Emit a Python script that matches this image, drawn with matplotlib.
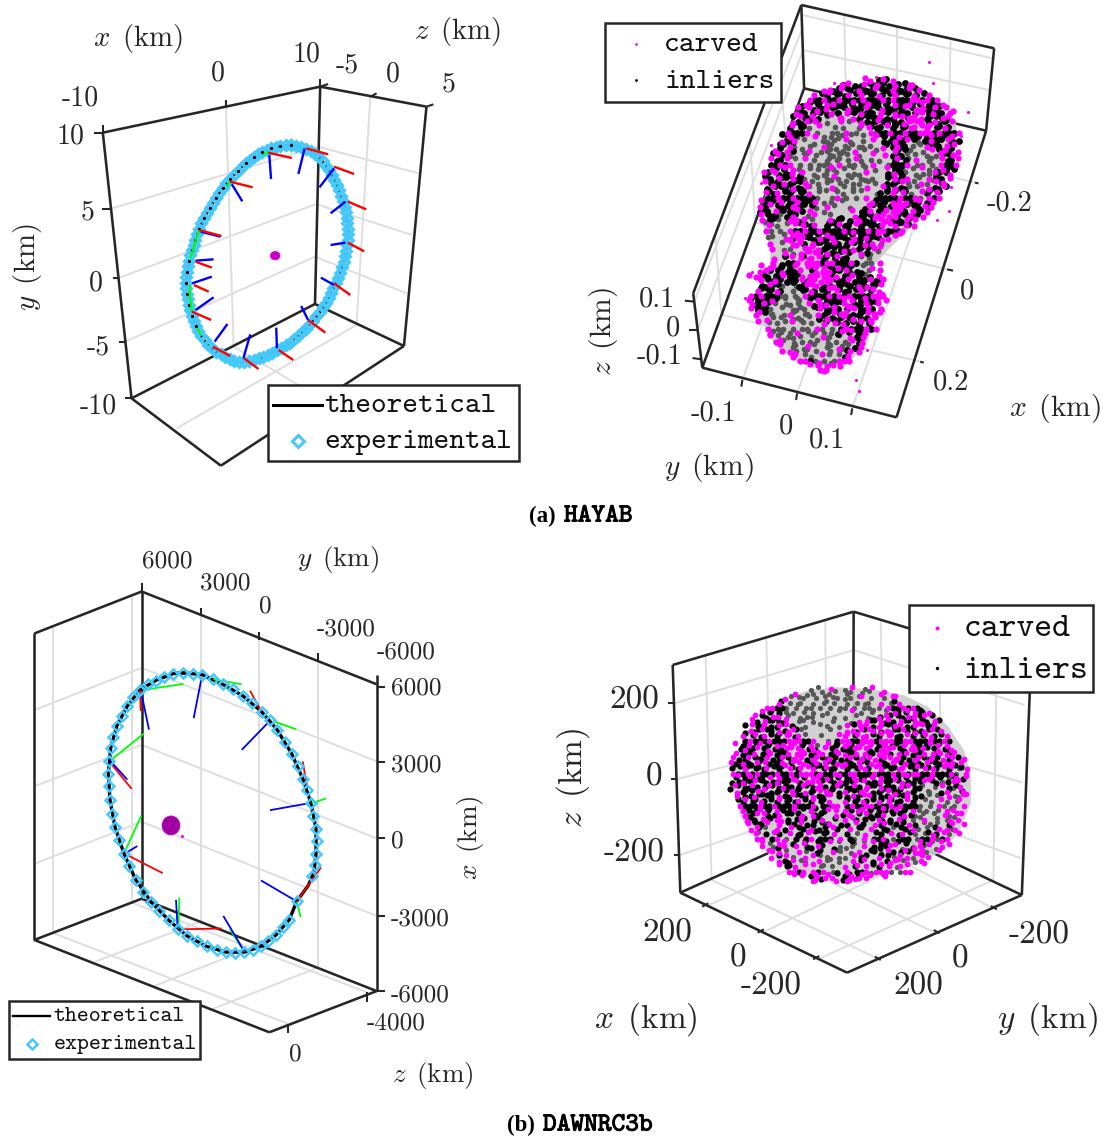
import numpy as np
import matplotlib
matplotlib.use('Agg')
import matplotlib.pyplot as plt
from matplotlib.patches import Polygon, Rectangle, Ellipse
import matplotlib.patheffects as pe

plt.rcParams['mathtext.fontset'] = 'cm'
W, H = 1104, 1138
INK = '#262626'; GRID = '#dedede'; CYAN = '#45c8fb'; MAG = '#ff00ff'

# ---------- panel a-left: HAYAB orbit ----------
ring_a = [(840,435),(810,438),(783,444),(757,456),(733,471),(710,489),(688,513),(665,537),(644,564),(624,594),(607,624),(590,654),(575,687),(563,720),(555,750),(546,783),(540,816),(537,849),(540,882),(546,915),(555,948),(566,978),(581,1008),(601,1035),(624,1056),(650,1071),(676,1083),(705,1086),(734,1080),(760,1071),(786,1059),(812,1044),(838,1029),(861,1008),(884,987),(904,963),(925,936),(942,909),(956,879),(971,849),(982,819),(994,786),(1000,753),(1005,720),(1005,687),(1002,654),(997,621),(985,588),(973,555),(959,525),(942,498),(922,471),(898,453),(870,441),(840,435)]
exp_a = ring_a + [(825,436),(796,441),(770,450),(745,463),(721,480),(699,501),(676,525),(654,550),(634,579),(615,609),(598,639),(582,670),(569,703),(559,735),(550,766),(543,799),(538,832),(538,865),(543,898),(550,931),(560,963),(573,993),(591,1021),(612,1045),(637,1063),(663,1077),(690,1085),(719,1083),(747,1075),(773,1065),(799,1051),(825,1036),(849,1018),(872,997),(894,975),(914,949),(933,922),(949,894),(963,864),(976,834),(988,802),(997,769),(1002,736),(1005,703),(1003,670),(999,637),(991,604),(979,571),(966,540),(950,511),(932,484),(910,462),(884,447),(855,437)]
red_a = [(885,445,948,463),(965,500,1023,522),(1005,605,1058,628),(1005,728,1052,754),(965,850,1012,885),(890,960,940,998),(805,1050,847,1080),(705,1075,747,1107),(615,1040,665,1068),(555,935,610,960),(560,855,603,875),(565,785,612,803),(575,690,640,708),(665,545,730,562),(775,458,843,474)]
blue_a = [(880,445,862,522),(965,505,923,562),(998,605,955,640),(998,728,955,735),(965,855,927,833),(890,960,870,918),(800,1045,798,983),(703,1075,723,1003),(620,1025,657,972),(565,930,617,892),(555,850,612,830),(565,782,617,778),(580,695,637,710),(670,553,700,604),(778,465,783,537)]
green_a = [(575,690,550,775),(548,855,548,885),(548,885,555,935),(570,985,580,1005),(655,560,665,545),(760,465,775,455)]
box_a = [(297,398,925,260),(925,260,1232,320),(297,398,380,1195),(925,260,910,912),(1232,320,1167,1038),(380,1195,910,912),(910,912,1167,1038),(380,1195,638,1397),(638,1397,1167,1038)]
grid_a = [(318,627,918,440),(918,440,1210,520),(340,835,913,612),(913,612,1190,705),(362,1025,910,770),(910,770,1175,880),(652,300,675,1040),(1070,290,1030,975),(675,1040,1000,1240),(1030,975,510,1285)]
tick_a = [(297,398,297,375),(925,260,925,237),(652,300,652,322),(925,260,948,252),(1070,290,1088,280),(1232,320,1252,313),(297,400,272,400),(318,627,296,627),(342,835,325,835),(362,1025,345,1025),(380,1195,360,1195)]
labels_a = [('-10',232,288),('0',630,215),('10',885,157),('-5',1003,190),('0',1135,218),('5',1296,247),('10',205,403),('5',252,632),('0',277,845),('-5',285,1035),('-10',283,1212)]

# ---------- panel a-right: HAYAB carved cloud ----------
body_b = [(940,245),(1020,260),(1090,300),(1135,370),(1140,430),(1125,490),(1085,590),(1040,650),(990,700),(940,750),(905,790),(885,840),(905,900),(905,960),(880,1030),(830,1085),(750,1110),(680,1085),(620,1040),(580,970),(555,920),(570,860),(600,800),(605,745),(580,670),(590,560),(620,470),(670,380),(720,300),(800,260),(880,250)]
# surface-point classes: m carved, k inlier, g occluded, . none
density_b = [
"                         mmkmkm",
"                   mkmkkmkkmkkmkkmm",
"                mmkkmkkmkkkmkkmkkkmkm",
"              mkkmkkkmkmkkkmkkmkkkmkkm",
"             mkkmkkmkkkkmkkkmkmkkkmmkmkm",
"            mkkkmkmkkkmkkmkkkkmkkmkkmkkkm",
"           mkmkkkmkkkmkkkmkkmkkkkmkmmkkmkm",
"          mkkkmkkmgkmkkmkkkmkkmkkkkmmkmkkmm",
"          kmkkmk.g.mm.mkkkkkmkkmmkmmmkkkkmm",
"         mkkmkm.g..m.g.mkkkmkkkkmmmmmkmkkkm",
"         kmkkg.m..g.g..gmmkkkmkkkkmmmmmkkmk",
"        mkkkm.g..gg.m.g..mgkkmkkmkkmmmkmkkkm",
"        kmkg..m.g.ggg.g.g..mkkkkmkkkkkmkkkmk",
"       mkkm.g..gg.g.mg..g.m.kkmkkmkgkkmkkmkk",
"       kkmg..gg.mgg.g.ggg.g..kkmkkg.gmkkkmkm",
"      mkmk.g.m.gggg.ggm.g.g.m.mkkg..g.mkmkkm",
"      kmkg..gg.g.ggggg.g..m..mkkkg.g.g.gmkkm",
"     mkkm.g.m.g.gggg.gmg.g.g..kmkg.m.gg.mkkm",
"     kkmkm.g.g.ggg.m.gg.g.m..gkkkm.gg.g.mkkm",
"     mkkmm.g.gg.gmg.g.g.g.g..mkkg.g.mg.gmkk",
"    mkmkkkm.m.g.gg.g.ggg.m...kkmkg.gg.gmkkm",
"    kkmkkmkkg.g.ggmg.g.gg.g..kmkkm.g.mgkkm",
"    mkkkmkkkm.gg.g.g.ggg.g.g.kkkmg.gmg.mkm",
"    kmkkkmkkmg.g.mg.g.g.m...mkmkkg.g.mkkmk",
"    mkkmkkkkkm.g.g.gg.g.g..gkkmkmkg.mkkmk",
"    kkmkkmkkkkg..gm.g.g.m..kkkkmkkmg.mkm",
"   mkkkmkkkmkkm.g.g.g.....mkkkmkmmkkmkkm",
"   mkmkkkmmkkkg.m.g..g...mkkkkmmmkkkmkm",
"   kkkmkkkgmkm..g.....m.kkmkkmmmmkmkkm",
"   mkkkgkmk.g.m..g....mkkkmmmmmkkmkkm",
"   mgkkg.mmkm.g..mkkk.kmkkkmmmkkkmkm",
"   .mgg.g.mmkkm.kkkmkkmkkkkkmmmkmkm",
"    mg.g.mkkmkkmkkkkmkkkkmkmmkkkm",
"    .g.g.mmmkkkkmkkkkkmkkkkmkkmm",
"     g..mmkmmkkmkkmkkkmkkmkkmm",
"     m.g.mmmkmkkkkmkkmkkmkmg",
"      m.gg..mmmmkkk.kkmkkkm.m",
"      ..mg.mmmmkmkkkmk.mkg.g",
"      m.k.mmkmmmkkkmkk..gg",
"     m .kkm.mmmkmmkkkmk.gg.m",
"   m mmkkkm..mmmmkkmkkk.g.m",
"   mmkkmkkkm.kmmmmkkmkkk.g.m",
" mmmkkkkmkkkmmmmmmkmkkmk.gkm",
"   mkkmkkkkmkmmmmmkkkmkkkmkkm",
"   kkmkkg.gkkmmmkkmkkkkmkmkkm",
"  mkkkmk.g.kkmkkkmmkkkkmkkmm",
" mkmkkkgg.g.mkkkkmkmkmkkkkmmm",
"mkkkkmk.g.gg.kmkkkkkmmkkmkkmm",
" mkkmkg.gg.g.mkmkmkkmmkkkmkm",
" mkkkg.g.gggg.kmkkmkkmmkkmkm",
"  mmkgg.gmg.gg.mkkmkmmkkkmmmm",
"   .mg.g.ggg.g.kmkkkmkmkkmm",
"   m.g.gg.m.g.g.mkmkmkkkmkm",
"    m.gg.g.gg.mg.g.kmkkkmkm",
"     mgg.g.m.gg.g.gkmkmkkm",
"     mg.gg.g.g.mgg.g.mkkm",
"      mmg.g.gg.g.g.gg.mkm",
"       m.gg.m.g.gg.g.gkm",
"        mmg.gg.g.g.mgkmm",
"         mm.gg.m.g.gkm",
"           mmkg.g.gmmm",
"             mmmmgmm",
"               mmm"]
stray_b = [(1058,185),(1170,337),(1115,632),(1080,660),(858,1172),(850,1140),(905,232),(785,250),(1070,250),(1150,408),(575,550),(605,435),(550,815),(530,895),(925,880),(880,1050),(925,930),(1120,560)]
box_b = [(692,15,1245,145),(1245,145,1222,392),(692,15,700,265),(700,265,1222,392),(692,15,382,880),(700,265,408,1103),(382,880,408,1103),(408,1103,965,1252),(1222,392,965,1252)]
grid_b = [(815,45,820,295),(965,82,965,330),(1120,122,1115,370),(695,45,1240,175),(695,150,1232,270),(523,1140,815,295),(680,1180,965,330),(838,1225,1115,370),(1190,548,647,416),(1110,808,560,667),(1033,1085,463,944),(385,905,697,80),(395,990,697,150),(630,195,647,416),(545,420,560,667),(445,700,463,944)]
tick_b = [(1190,548,1200,550),(1110,808,1127,812),(1033,1085,1043,1088),(523,1140,520,1160),(680,1180,677,1200),(838,1225,835,1245),(385,905,358,902),(395,990,370,990),(405,1078,380,1074)]
labels_b = [('-0.2',1290,603),('0',1167,867),('0.2',1120,1140),('0.1',278,893),('0',323,980),('-0.1',285,1063),('-0.1',440,1233),('0',647,1273),('0.1',767,1315)]

# ---------- panel b-left: DAWNRC3b orbit ----------
ring_c = [(550,348),(580,352),(607,355),(640,365),(668,378),(698,390),(728,408),(755,428),(785,450),(810,472),(832,498),(855,530),(875,560),(893,592),(908,625),(922,655),(933,690),(940,722),(948,757),(950,790),(948,822),(945,852),(935,880),(890,947),(868,995),(850,1015),(828,1035),(805,1052),(783,1065),(760,1075),(733,1080),(705,1082),(678,1080),(650,1075),(620,1065),(590,1052),(562,1038),(533,1020),(507,997),(478,972),(453,948),(430,922),(407,890),(388,855),(372,822),(358,787),(345,752),(336,717),(330,682),(327,645),(325,612),(327,578),(332,545),(338,517),(350,488),(365,460),(382,435),(400,412),(420,393),(443,378),(467,370),(493,358),(520,350)]
theory_c = [(550,348),(607,353),(668,378),(728,408),(785,450),(832,498),(875,560),(908,625),(933,690),(948,757),(948,822),(942,870),(925,905),(890,947),(868,995),(828,1035),(783,1065),(733,1080),(678,1080),(620,1065),(562,1038),(507,997),(453,948),(407,890),(372,822),(345,752),(330,682),(325,612),(332,545),(350,488),(382,435),(420,393),(467,368),(520,350),(550,348)]
red_c = [(420,393,422,448),(750,395,785,450),(908,580,922,650),(332,585,395,652),(385,827,488,873),(890,947,963,858),(548,1020,665,1018),(770,1060,800,1048)]
blue_c = [(425,405,447,497),(605,360,581,467),(805,478,725,550),(330,578,382,628),(378,820,412,802),(925,690,810,708),(890,947,783,892),(533,1020,528,943),(733,1078,670,985)]
green_c = [(430,393,550,377),(640,365,725,378),(820,475,888,496),(335,575,432,507),(378,810,424,722),(935,690,978,677),(890,947,902,988),(535,1020,538,937),(733,1080,690,1020)]
box_c = [(103,245,425,135),(425,135,1130,378),(103,245,103,1048),(425,135,425,940),(1130,355,1130,1182),(103,1048,425,940),(425,940,1130,1182),(103,1048,808,1290),(808,1290,1130,1182)]
grid_c = [(602,178,602,1000),(778,240,778,1060),(955,300,955,1120),(425,335,1130,580),(425,537,1130,782),(425,738,1130,985),(160,230,160,1030),(395,150,395,950),(105,445,425,335),(105,645,425,537),(105,848,425,738),(160,1030,865,1268),(395,950,1100,1185),(602,1000,285,1105),(778,1060,460,1170),(955,1120,635,1230)]
tick_c = [(425,135,425,112),(602,178,602,200),(778,240,778,262),(955,296,955,318),(1130,384,1155,384),(1130,582,1155,582),(1130,782,1155,782),(1130,985,1155,985),(1130,1182,1155,1182),(865,1268,865,1292),(1100,1185,1100,1210)]
labels_c = [('6000',502,52),('3000',677,112),('0',797,172),('-3000',1040,232),('-6000',1218,292),('6000',1248,385),('3000',1248,587),('0',1192,788),('-3000',1260,990),('-6000',1260,1190),('-4000',1188,1265),('0',885,1345)]

# ---------- panel b-right: DAWNRC3b carved cloud ----------
body_d = [(800,292),(900,297),(990,315),(1060,350),(1120,410),(1165,480),(1185,560),(1185,640),(1150,730),(1090,790),(1000,835),(900,860),(800,870),(700,860),(630,820),(570,760),(520,680),(497,590),(505,500),(540,420),(600,360),(660,320),(720,300)]
density_d = [
"                g.g.m..g.m.g.m",
"             m.gg.g.gg.gg.g.g.mm",
"           mg.gg.g.g.gggg.gm.g.g.mm",
"         mkg.gg.g.gg.g.g.g.gg.m.gkm",
"       mmkkg.g.gg.g.g.gg.g.gg.g.mkkmkmk",
"      mkkk.gg.g.g..g..g.m.g.gg.g.mkkmmkkm",
"     mkkmkm.g.gg.g.g.g.g..g.g.mkmkkkmkmkmk",
"    mkmkkkkm.gg.g...g...g.mmkkmkmkmkkmmkkmk",
"   kmkkmkkmmkg.g..g.g.g.mkmmmkmmkkmmkkmmkkm",
"   mkkmkkmkmmkg.....g..mmkmkmmkmmkkmkkkmkmkm",
"  mkkmkmkkkmmkmg..g...mmmkmmmkkmmmkkmkmkmmkkm",
"  kmkkkmkkkmmmkkm..g.kmmkkmmmkmmmkkmmkkkmkkmk",
" mkkmkmkkmkmmmkkm.g.mkkmmkmmmmkmmkkmmmkkkmmkm",
" kmkkmkmkkkmmmmkmk.mkmkkkmmmkkmmmmkkmmkmkkmkkm",
" mkkkmkkmkkkmmmmkkmmkkmmkkmmkkmmmkmkmkkkmmkmmkm",
"mkkmkkkmkkmkmmmkmmkkmkkkmkmkmmkmmmmkkmmkkmkmkmkm",
"mkmkkmkmkkmmkmmmkmkmkkmmkkmkkmmkkmmkmkkkmkkkmmkm",
"kkmkkkkmkkkmkkmmmkkmkkmkkkmmkmmkkkmmkkmmkmkmkmgkm",
"mkkmkmkkkmkkmkmmmkmkkmkkmmkkkmkkkmkmkmmkkmkkkmg.m",
"kmkmkkkmkmkkmkkmmmkmkkmkkmkkmkmkkmkkmkkkmmkkgkmkm",
"kkmkkmkkkmkkkmkmkmmkkkmkkkmmkkkmkkkmkkgkmkkg.kmm",
"mkkkmkkmkkmkkkmkkmmkkmkkkmkmkkmkkkmkmkkg.g.mkgkm",
"kmkkkmkmkkkkmkkmkkmmkkkmkkkmmkkkmkkkmkg.gg.kmg.km",
" mkkmkkkkmkkmkkkmkkmm.kkmkkmmkkkmmkkmkk.g.g.mggmm",
" kkmkkmkkkmkkkmkkmkkm..mkkkmkkmkmkkkmkg.gg.mg.gm",
" mkkkmkkmkkkmkkkm.kkmm.kmkkmmkkkmkmkkkg.g.mg.g.m",
" .mkkkmkkmkkkm.kmk.kmm.m.kmmkkkmkkmkkm.gg.g.mgm",
"  mgkmmkkm.kkkm.mkk..mk.m.kmkkkm.kkmkg.g.g.mg.mm",
"  .mkkm.kmm.kkmk.kkm.k.m.mkk.kmk.kmk.g.gm.g.gmgm",
"   mkkkm.m.kk.mkk.kkm.kk.m.k.mkmkk.kmk.gg.g.km.m",
"    mmkg.m.km.kkm.kk.mk.m.kk.m.kkg.kkmg.g.kmmgm",
"    mg.kmk.m.kkm.kkk.m.k.g.m.kk.m.kmkg.gkmkmg.m",
"     mm.km.g.k.km.kkk.m.kg.m.kkm.g.kk.gkkmgkm",
"     .mg.mm.k.mk.kk.m.g.kg.g.mkk.mkkg.mkmg.mm",
"      m.g.km.m.kk.mk.kg.gg.m.k.kkm.g.kmmg.gm",
"       mmm.g.m.g.kk.mgg.g.m.kkg.mkkmkmmmg.m",
"        m.km.g.m.mg.g.gg.m.kk.mkkg.mmg.mm",
"         mkkm.gg.m.gg.g.m.km.k.kmmmg.gmm",
"          mkkm.m.mgg.g.m.km.mkkmm.gmm",
"           mmkm.mkm.gg.m.kkm.mmmg.gmm",
"             mmmkmm.m.kkkmkmmg.mm",
"                mmkmmmkmmmmm"]
box_d = [(325,225,847,65),(847,65,1358,225),(325,225,347,908),(847,65,845,675),(1358,225,1332,915),(347,908,845,675),(845,675,1332,915),(347,908,828,1148),(828,1148,1332,915)]
grid_d = [(420,195,437,870),(595,140,610,790),(765,92,770,700),(330,340,847,180),(335,568,845,430),(345,795,845,620),(847,180,1340,345),(845,430,1335,578),(845,620,1330,805),(925,90,935,700),(1095,140,1095,770),(1260,195,1250,870),(430,945,935,710),(590,1025,1095,770),(750,1105,1250,870),(915,1105,437,870),(1085,1030,610,790),(1250,955,770,700)]
tick_d = [(410,950,428,940),(570,1028,588,1018),(730,1108,748,1098),(925,1110,908,1100),(1095,1030,1078,1020),(1260,958,1243,948),(312,340,330,340),(320,568,335,568),(330,795,345,795)]
labels_d = [('200',215,322),('0',270,552),('-200',213,780),('200',310,1020),('0',513,1097),('-200',610,1180),('-200',1382,1027),('0',1155,1100),('200',1032,1180)]

# where a mark sits inside its map cell, so the cells do not read as a lattice
cell_shift = [(3,-4),(-5,2),(1,5),(-2,-3),(6,1),(-4,-5),(4,4)]

fig = plt.figure(figsize=(W/100, H/100), dpi=100)

def panel(x, y, w, h, xmax, ymax):
    ax = fig.add_axes([x/W, 1-(y+h)/H, w/W, h/H])
    ax.set_xlim(0, xmax); ax.set_ylim(ymax, 0); ax.axis('off')
    return ax

def segs(ax, s, color, lw, z):
    for x0, y0, x1, y1 in s:
        ax.plot([x0, x1], [y0, y1], color=color, lw=lw, zorder=z, solid_capstyle='butt', clip_on=False)

def xy(p):
    a = np.array(p, float)
    return a[:, 0], a[:, 1]

def texts(ax, labels, fs, dy=6):
    for t, x, y in labels:
        ax.text(x, y+dy, t, family='cmr10', fontsize=fs, color=INK, ha='center', va='center', zorder=30)

def lab(ax, t, x, y, fs, rot=0):
    ax.text(x, y, r'$%s\ \,\mathrm{(km)}$' % t, fontsize=fs, color=INK, ha='center', va='center', rotation=rot, zorder=30)

def frame(ax, box, grid, tick, blw=1.85):
    segs(ax, grid, GRID, 1.4, 1)
    segs(ax, box, INK, blw, 2)
    segs(ax, tick, INK, blw*0.8, 2)

def legend_box(ax, x0, y0, x1, y1):
    ax.add_patch(Rectangle((x0, y0), x1-x0, y1-y0, fc='white', ec=INK, lw=1.8, zorder=20))

def tt(ax, t, x, y, fs):
    ax.text(x, y, t, family='cmtt10', fontsize=fs, color='#111111', ha='left', va='center', zorder=21)

def cloud(ax, rows, x0, y0, cell, s):
    n = len(cell_shift)
    for cls, col, sz, z in (('g', '#565656', s*0.7, 4), ('k', 'k', s, 5), ('m', MAG, s*0.85, 6)):
        pts = []
        for j, r in enumerate(rows):
            for i, ch in enumerate(r):
                if ch == cls:
                    sx, sy = cell_shift[(3*i + 5*j + i*j) % n]
                    pts.append((x0 + cell*i + (cell/2 if j % 2 else 0) + sx, y0 + cell*j + sy))
        ax.scatter(*xy(pts), s=sz, c=col, lw=0, zorder=z)

# panel a-left
a = panel(0, 0, 540, 500, 1560, 1500)
frame(a, box_a, grid_a, tick_a)
a.plot(*xy(ring_a), color='k', lw=2, zorder=4)
a.plot(*xy(exp_a), ls='none', marker='D', ms=5.4, mfc='none', mec=CYAN, mew=2.2, zorder=4.5)
a.plot(*xy(ring_a[:22]), ls='none', marker='.', ms=2.6, color='k', zorder=4.6)
segs(a, green_a, '#00ff00', 1.5, 5); segs(a, blue_a, '#0000ff', 1.7, 5); segs(a, red_a, '#ff0000', 1.7, 5)
a.add_patch(Ellipse((795, 767), 28, 26, fc='#c000c0', ec='#ff00ff', lw=0.5, zorder=6))
texts(a, labels_a, 20)
lab(a, 'x', 400, 115, 20.8); lab(a, 'z', 1322, 95, 20.8); lab(a, 'y', 80, 800, 20.8, 90)
legend_box(a, 775, 1155, 1500, 1383)
a.plot([790, 930], [1215, 1215], color='k', lw=2.2, zorder=21)
a.plot([862], [1322], ls='none', marker='D', ms=6, mfc='none', mec=CYAN, mew=2.2, zorder=21)
tt(a, 'theoretical', 937, 1220, 21.4); tt(a, 'experimental', 937, 1328, 21.4)

# panel a-right
b = panel(560, 0, 544, 500, 1560, 1500)
frame(b, box_b, grid_b, tick_b)
b.add_patch(Polygon(body_b, fc='#cdcdcd', ec='none', zorder=3))
cloud(b, density_b, 530, 240, 14, 24)
b.scatter(*xy(stray_b), s=5, c=MAG, lw=0, zorder=6)
texts(b, labels_b, 20.5)
lab(b, 'x', 1420, 1225, 21.3); lab(b, 'y', 428, 1403, 21.3); lab(b, 'z', 125, 995, 21.3, 90)
legend_box(b, 128, 68, 635, 305)
b.scatter([218], [133], s=4, c=MAG, lw=0, zorder=21); b.scatter([218], [240], s=4, c='k', lw=0, zorder=21)
tt(b, 'carved', 299, 136, 21.6); tt(b, 'inliers', 299, 246, 21.6)

# panel b-left
c = panel(0, 540, 500, 598, 1500, 1567)
frame(c, box_c, grid_c, tick_c)
c.plot(*xy(theory_c), color='k', lw=2.4, zorder=4)
segs(c, green_c, '#00ff00', 1.3, 5); segs(c, red_c, '#ff0000', 1.3, 5); segs(c, blue_c, '#0000ff', 1.3, 5)
c.plot(*xy(ring_c), ls='none', marker='D', ms=4.7, mfc='none', mec=CYAN, mew=1.8, zorder=6)
c.add_patch(Ellipse((513, 748), 54, 50, fc='#a000a0', ec='#d000d0', lw=0.5, zorder=6))
c.scatter([547], [775], s=5, c=MAG, lw=0, zorder=6)
texts(c, labels_c, 18.2, dy=3)
lab(c, 'y', 1015, 52, 19.5); lab(c, 'z', 1300, 1403, 19.5); lab(c, 'x', 1412, 780, 19.5, 90)
legend_box(c, 27, 1207, 600, 1360)
c.plot([40, 150], [1247, 1247], color='k', lw=1.7, zorder=21)
c.plot([95], [1320], ls='none', marker='D', ms=4.7, mfc='none', mec=CYAN, mew=1.8, zorder=21)
tt(c, 'theoretical', 160, 1248, 16.4); tt(c, 'experimental', 160, 1321, 16.4)

# panel b-right
d = panel(560, 590, 544, 460, 1569, 1380)
frame(d, box_d, grid_d, tick_d)
d.add_patch(Polygon(body_d, fc='#cdcdcd', ec='none', alpha=0.92, zorder=3))
cloud(d, density_d, 495, 295, 14, 20)
texts(d, labels_d, 24, dy=8)
lab(d, 'x', 247, 1287, 24); lab(d, 'y', 1405, 1287, 24); lab(d, 'z', 38, 565, 24, 90)
legend_box(d, 1007, 45, 1537, 305)
d.scatter([1088], [113], s=8, c=MAG, lw=0, zorder=21); d.scatter([1088], [235], s=6, c='k', lw=0, zorder=21)
tt(d, 'carved', 1163, 118, 24.5); tt(d, 'inliers', 1163, 243, 24.5)

# captions
def caption(tag, x0, name, x1, y):
    fig.text(x0/W, 1-y/H, tag, family='Liberation Serif', weight='bold', fontsize=16.5, ha='left', va='center', color='k')
    fig.text(x1/W, 1-y/H, name, family='cmtt10', fontsize=18.8, ha='left', va='center', color='k',
             path_effects=[pe.withStroke(linewidth=0.7, foreground='k')])

caption('(a)', 529, 'HAYAB', 564, 516)
caption('(b)', 507, 'DAWNRC3b', 543, 1125)

fig.savefig('out.png', dpi=100)
